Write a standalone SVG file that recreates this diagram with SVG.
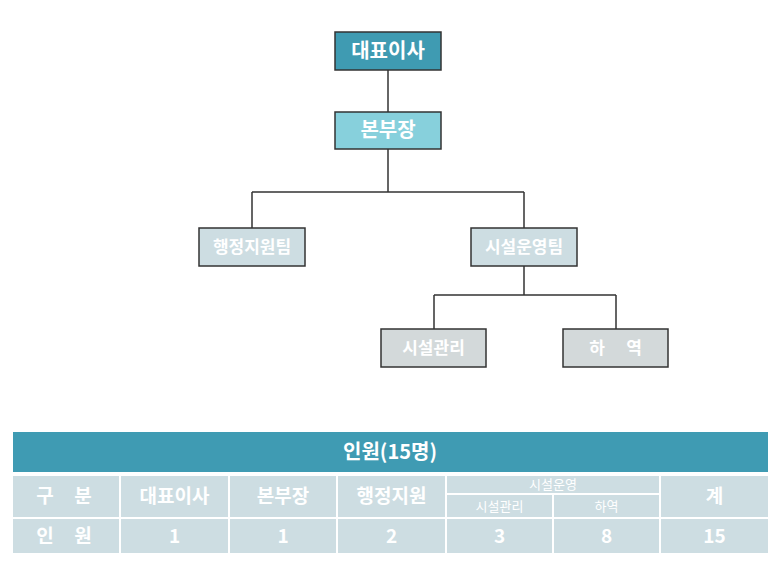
<svg xmlns="http://www.w3.org/2000/svg" width="780" height="565" viewBox="0 0 780 565">
<style>
text{font-family:"Noto Sans CJK KR","Noto Sans",sans-serif;fill:#fff;font-weight:bold;text-anchor:middle;dominant-baseline:central}
.box{stroke:#333;stroke-width:1.5}
.conn{fill:none;stroke:#333;stroke-width:1.5}
.hd{fill:#3f9bb3}
.cell{fill:#cddde2}
.t1{font-size:20px}
.t2{font-size:17px}
.tc{font-size:19px}
.ts{font-size:13px;font-weight:normal}
</style>
<rect width="780" height="565" fill="#fff"/>
<g id="connectors">
<path class="conn" d="M388 70V112"/>
<path class="conn" d="M388 149V192M252 192H524M252 192V228M524 192V228"/>
<path class="conn" d="M524 266V295M434 295H616M434 295V329M616 295V329"/>
</g>
<g id="n-ceo"><rect class="box" x="335" y="32" width="106" height="38" fill="#3f9bb2"/><text class="t1" x="388" y="49">대표이사</text></g>
<g id="n-director"><rect class="box" x="335" y="112" width="106" height="37" fill="#87d0dc"/><text class="t1" x="388" y="128.5">본부장</text></g>
<g id="n-admin"><rect class="box" x="199" y="228" width="106" height="38" fill="#cddde2"/><text class="t2" x="252" y="245.5">행정지원팀</text></g>
<g id="n-ops"><rect class="box" x="471" y="228" width="106" height="38" fill="#cddde2"/><text class="t2" x="524" y="245.5">시설운영팀</text></g>
<g id="n-facility"><rect class="box" x="381" y="329" width="105" height="38" fill="#d3d9da"/><text class="t2" x="433.5" y="346.5">시설관리</text></g>
<g id="n-unload"><rect class="box" x="563" y="329" width="105" height="38" fill="#d3d9da"/><text class="t2" x="597" y="346.5">하</text><text class="t2" x="634" y="346.5">역</text></g>
<g id="table">
<rect class="hd" x="13" y="432" width="755" height="40"/>
<text class="t1" x="390" y="450">인원(15명)</text>
<rect class="cell" x="13" y="476" width="106" height="41"/>
<rect class="cell" x="121" y="476" width="107" height="41"/>
<rect class="cell" x="230" y="476" width="106" height="41"/>
<rect class="cell" x="338" y="476" width="107" height="41"/>
<rect class="cell" x="447" y="476" width="212" height="17"/>
<rect class="cell" x="447" y="495" width="105" height="22"/>
<rect class="cell" x="554" y="495" width="105" height="22"/>
<rect class="cell" x="661" y="476" width="107" height="41"/>
<rect class="cell" x="13" y="519" width="106" height="34"/>
<rect class="cell" x="121" y="519" width="107" height="34"/>
<rect class="cell" x="230" y="519" width="106" height="34"/>
<rect class="cell" x="338" y="519" width="107" height="34"/>
<rect class="cell" x="447" y="519" width="105" height="34"/>
<rect class="cell" x="554" y="519" width="105" height="34"/>
<rect class="cell" x="661" y="519" width="107" height="34"/>
<text class="tc" x="45" y="494">구</text>
<text class="tc" x="83" y="494">분</text>
<text class="tc" x="174.5" y="494">대표이사</text>
<text class="tc" x="283" y="494">본부장</text>
<text class="tc" x="391.5" y="494">행정지원</text>
<text class="ts" x="553" y="483.5">시설운영</text>
<text class="ts" x="499.5" y="505">시설관리</text>
<text class="ts" x="606.5" y="505">하역</text>
<text class="tc" x="714.5" y="494">계</text>
<text class="tc" x="45" y="534">인</text>
<text class="tc" x="83" y="534">원</text>
<text class="tc" x="174.5" y="534">1</text>
<text class="tc" x="283" y="534">1</text>
<text class="tc" x="391.5" y="534">2</text>
<text class="tc" x="499.5" y="534">3</text>
<text class="tc" x="606.5" y="534">8</text>
<text class="tc" x="714.5" y="534">15</text>
</g>
</svg>
